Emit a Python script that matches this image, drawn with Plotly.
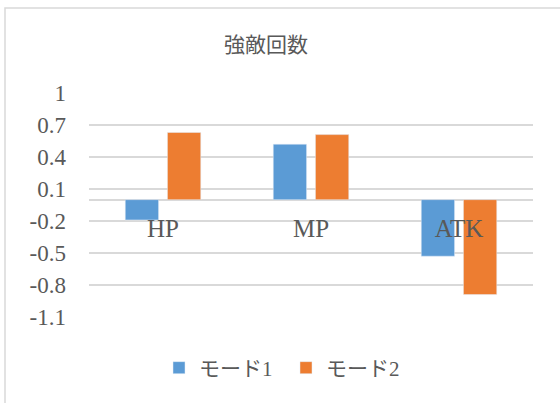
import plotly.graph_objects as go

categories = ["HP", "MP", "ATK"]
mode1 = [-0.19, 0.52, -0.53]
mode2 = [0.63, 0.61, -0.89]
y_ticks = [1, 0.7, 0.4, 0.1, -0.2, -0.5, -0.8, -1.1]
y_labels = ["1", "0.7", "0.4", "0.1", "-0.2", "-0.5", "-0.8", "-1.1"]
title = "強敵回数"
names = ["モード1", "モード2"]

W, H = 560, 403
L, R, T, B = 89, 27, 93, 86
pw, ph = W - L - R, H - T - B
ymin, ymax = -1.1, 1.0

FONT = "Liberation Serif, Noto Sans CJK JP, serif"
GRAY = "#595959"
GRID = "#d9d9d9"

fig = go.Figure()
fig.add_trace(go.Bar(x=categories, y=mode1, name=names[0], marker=dict(color="#5b9bd5")))
fig.add_trace(go.Bar(x=categories, y=mode2, name=names[1], marker=dict(color="#ed7d31")))

zero_pos = (0 - ymin) / (ymax - ymin)

fig.update_layout(
    width=W, height=H,
    margin=dict(l=L, r=R, t=T, b=B),
    paper_bgcolor="white", plot_bgcolor="white",
    barmode="group", bargap=0.43, bargroupgap=0.21,
    font=dict(family=FONT, color=GRAY),
    title=dict(text=title, x=266 / W, xref="container", xanchor="center",
               y=1 - 45 / H, yref="container", yanchor="middle",
               font=dict(family="Noto Sans CJK JP", size=21, color=GRAY)),
    showlegend=True,
    legend=dict(orientation="h", x=(159 - L) / pw, xanchor="left",
                y=(T + ph - 368) / ph, yanchor="middle",
                font=dict(family=FONT, size=21, color=GRAY),
                itemwidth=30, tracegroupgap=0, entrywidth=82, entrywidthmode="pixels"),
    xaxis=dict(anchor="free", position=zero_pos, showline=False, showgrid=False,
               ticks="", tickfont=dict(family=FONT, size=25, color=GRAY), ticklabelstandoff=11,
               zeroline=False),
    yaxis=dict(range=[ymin, ymax], tickvals=y_ticks, ticktext=y_labels,
               showgrid=True, gridcolor=GRID, gridwidth=1.5,
               zeroline=True, zerolinecolor=GRID, zerolinewidth=2,
               showline=False, ticks="", ticklabelstandoff=22,
               tickfont=dict(family=FONT, size=23, color=GRAY)),
    shapes=[dict(type="rect", xref="paper", yref="paper",
                 x0=(5 - L) / pw, x1=1.2, y0=-0.6, y1=(T + ph - 8) / ph,
                 line=dict(color=GRID, width=1.5), fillcolor="rgba(0,0,0,0)", layer="below")],
)

fig.write_html("out.html")
